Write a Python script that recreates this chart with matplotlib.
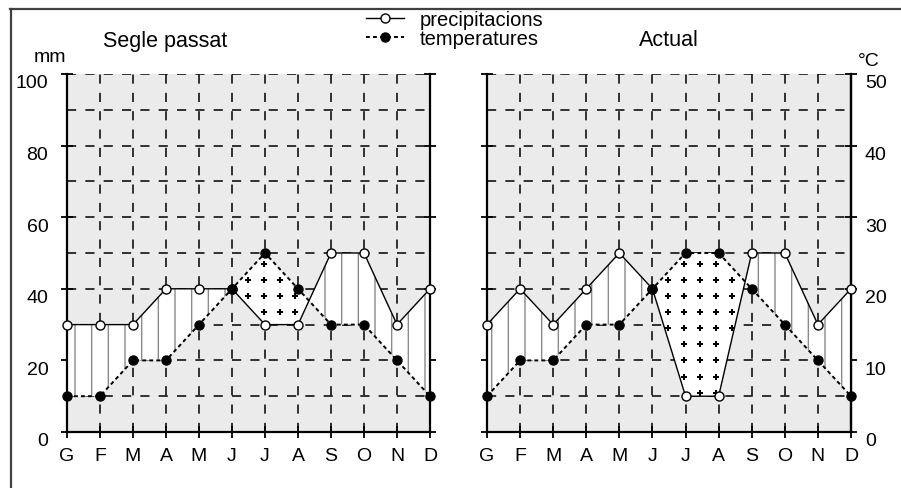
import numpy as np
import matplotlib
matplotlib.use('Agg')
import matplotlib.pyplot as plt
from matplotlib.lines import Line2D
from matplotlib.transforms import ScaledTranslation

# ---- data ----
months = ['G', 'F', 'M', 'A', 'M', 'J', 'J', 'A', 'S', 'O', 'N', 'D']
prec_past = [30, 30, 30, 40, 40, 40, 30, 30, 50, 50, 30, 40]      # mm
temp_past = [5, 5, 10, 10, 15, 20, 25, 20, 15, 15, 10, 5]         # °C
prec_now = [30, 40, 30, 40, 50, 40, 10, 10, 50, 50, 30, 40]       # mm
temp_now = [5, 10, 10, 15, 15, 20, 25, 25, 20, 15, 10, 5]         # °C
titles = ['Segle passat', 'Actual']
mm_ticks = [0, 20, 40, 60, 80, 100]
c_ticks = [0, 10, 20, 30, 40, 50]
legend_labels = ['precipitacions', 'temperatures']

plt.rcParams['font.family'] = ['Liberation Sans', 'DejaVu Sans']
plt.rcParams['hatch.linewidth'] = 1.0

W, H = 901, 489
fig = plt.figure(figsize=(W / 100, H / 100), dpi=100)
ax1 = fig.add_axes([67 / W, 1 - 433 / H, 363 / W, 358 / H])
ax2 = fig.add_axes([487 / W, 1 - 433 / H, 364 / W, 358 / H])

x = np.arange(len(months))
dash = (0, (6, 6))
down = ScaledTranslation(0, -7 / 100, fig.dpi_scale_trans)


def draw(ax, prec, temp, left_labels):
    prec = np.asarray(prec, float)
    t_mm = np.asarray(temp, float) * 2  # P = 2T convention
    ax.set_facecolor('#ebebeb')
    ax.set_xlim(0, len(months) - 1)
    ax.set_ylim(0, 100)
    ax.set_xticks(x)
    ax.set_xticklabels(months)
    ax.set_yticks(mm_ticks)
    ax.set_yticks(np.arange(10, 100, 20), minor=True)
    ax.grid(True, which='both', color='k', linestyle=dash, linewidth=1.1, zorder=1)
    ax.set_axisbelow(True)

    # hatched area (precip > temp)
    ax.fill_between(x, prec, t_mm, where=prec >= t_mm, interpolate=True,
                    facecolor='white', edgecolor='#8a8a8a', hatch='|',
                    linewidth=0, zorder=2)
    # dotted area (temp > precip)
    fb = ax.fill_between(x, prec, t_mm, where=t_mm > prec, interpolate=True,
                         facecolor='white', linewidth=0, zorder=2)
    gx, gy = np.meshgrid(np.arange(0.2, 11, 0.48), np.arange(2.0, 100, 4.5))
    pts = np.column_stack([gx.ravel(), gy.ravel()])
    for p in fb.get_paths():
        inside = p.contains_points(pts)
        ax.plot(pts[inside, 0], pts[inside, 1], ls='none', marker='P',
                ms=5.0, color='k', mew=0, zorder=3)

    ax.plot(x, prec, color='k', lw=1.0, marker='o', mfc='white', mec='k',
            ms=6.5, mew=1.0, zorder=4, clip_on=False)
    ax.plot(x, t_mm, color='k', lw=1.4, ls=(0, (2, 1.6)), marker='o', mfc='k',
            mec='k', ms=6.5, zorder=5, clip_on=False)

    for s in ['left', 'right', 'bottom']:
        ax.spines[s].set_linewidth(1.6)
        ax.spines[s].set_zorder(3.5)
    ax.spines['top'].set_visible(False)
    ax.tick_params(which='major', direction='inout', length=9, width=1.3,
                   labelsize=14, left=True, right=True, bottom=True, top=False,
                   labelleft=left_labels, labelright=False)
    ax.tick_params(axis='y', pad=9)
    ax.tick_params(axis='x', pad=6)
    ax.tick_params(which='minor', length=0)
    for lab in ax.get_yticklabels():
        lab.set_transform(lab.get_transform() + down)


draw(ax1, prec_past, temp_past, True)
draw(ax2, prec_now, temp_now, False)

sec = ax2.secondary_yaxis('right', functions=(lambda y: y / 2, lambda t: t * 2))
sec.set_yticks(c_ticks)
sec.tick_params(length=0, pad=10, labelsize=14)
sec.spines['right'].set_linewidth(1.6)
for lab in sec.get_yticklabels():
    lab.set_transform(lab.get_transform() + down)

fig.text(103 / W, 1 - 41 / H, titles[0], fontsize=15.5, ha='left', va='center')
fig.text(669 / W, 1 - 41 / H, titles[1], fontsize=15.5, ha='center', va='center')
fig.text(50 / W, 1 - 57 / H, 'mm', fontsize=14, ha='center', va='center')
fig.text(869 / W, 1 - 61 / H, '°C', fontsize=14, ha='center', va='center')

handles = [Line2D([], [], color='k', lw=1.0, marker='o', mfc='white', mec='k', ms=6.5),
           Line2D([], [], color='k', lw=1.4, ls=(0, (2, 1.6)), marker='o', mfc='k', ms=6.5)]
fig.legend(handles, legend_labels, loc='upper left',
           bbox_to_anchor=(366 / W, 1 - 11 / H), frameon=False, fontsize=14.5,
           handlelength=1.9, handletextpad=0.75, labelspacing=0.02,
           borderpad=0, borderaxespad=0)

frame_col = '#404040'
fig.add_artist(Line2D([10 / W, 1], [1 - 10 / H, 1 - 10 / H], transform=fig.transFigure,
                      color=frame_col, lw=1.6))
fig.add_artist(Line2D([11 / W, 11 / W], [0, 1 - 10 / H], transform=fig.transFigure,
                      color=frame_col, lw=1.6))

fig.savefig('out.png', dpi=100)
